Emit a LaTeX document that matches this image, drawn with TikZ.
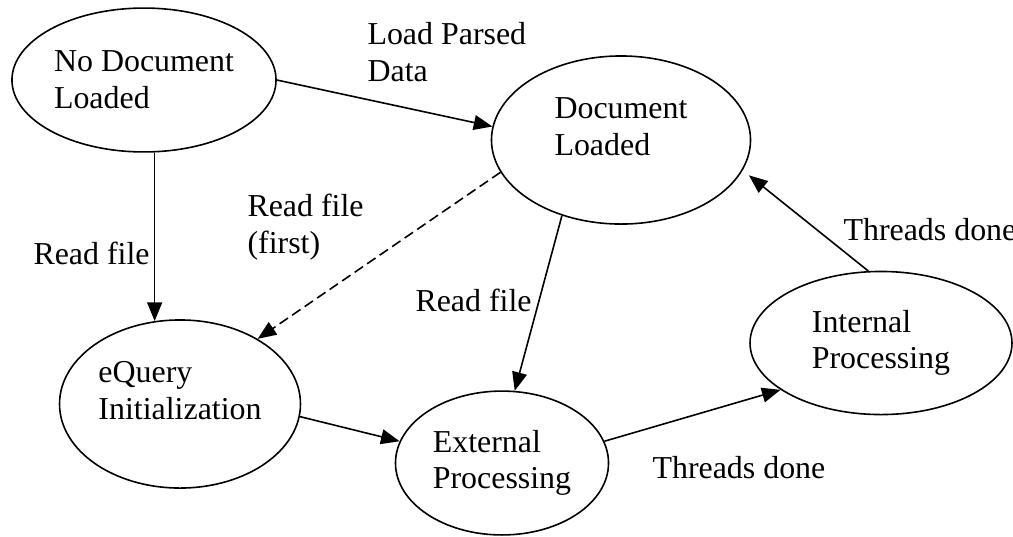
\documentclass[tikz,border=0pt]{standalone}
\usepackage{fontspec}
\setmainfont{Liberation Serif}
\usetikzlibrary{shapes.geometric, arrows.meta}

\tikzset{
  phase/.style={ellipse, draw, line width=0.6pt, align=left, inner sep=0pt},
  trans/.style={-{Triangle[length=7pt,width=5.6pt]}, line width=0.6pt},
  lbl/.style={anchor=base west, align=left, inner sep=0pt}
}

\begin{document}
\begin{tikzpicture}[x=0.376pt, y=-0.376pt, font=\fontsize{12}{13.8}\selectfont]
\useasboundingbox (0,0) rectangle (1013,536);

% states
\node[phase, minimum width=99.3pt, minimum height=54.1pt]  (nodoc) at (144,80)  {No Document\\Loaded};
\node[phase, minimum width=97.4pt, minimum height=63.2pt, text depth=10pt] (doc) at (621,140) {Document\\Loaded};
\node[phase, minimum width=90.6pt, minimum height=63.2pt, text depth=10pt] (init) at (180,404) {eQuery\\Initialization};
\node[phase, minimum width=80.1pt, minimum height=54.1pt]  (ext) at (502,463)   {External\\Processing};
\node[phase, minimum width=98.5pt, minimum height=53.8pt]  (int) at (881,343)   {Internal\\Processing};

% transitions
\draw[trans] (nodoc.east) -- (doc.174);
\draw[trans] (init.107 |- nodoc.south) -- (init.107);
\draw[trans, dash pattern=on 3.8pt off 1.9pt] (doc.195) -- (init.40);
\draw[trans] (doc.232) -- (ext.80);
\draw[trans] (init.-6) -- (ext.168);
\draw[trans] (ext.12) -- (int.205);
\draw[trans, shorten >=3pt] (int.100) -- (doc.-14);

% labels (base = last line)
\node[lbl] (lpd) at (367,81)  {Load Parsed\\Data};
\node[lbl] (rf1) at (33,264)  {Read file};
\node[lbl] (rf2) at (247,253) {Read file\\(first)};
\node[lbl] (rf3) at (415,311) {Read file};
\node[lbl] (td1) at (843,240) {Threads done};
\node[lbl] (td2) at (652,478) {Threads done};
\end{tikzpicture}
\end{document}
